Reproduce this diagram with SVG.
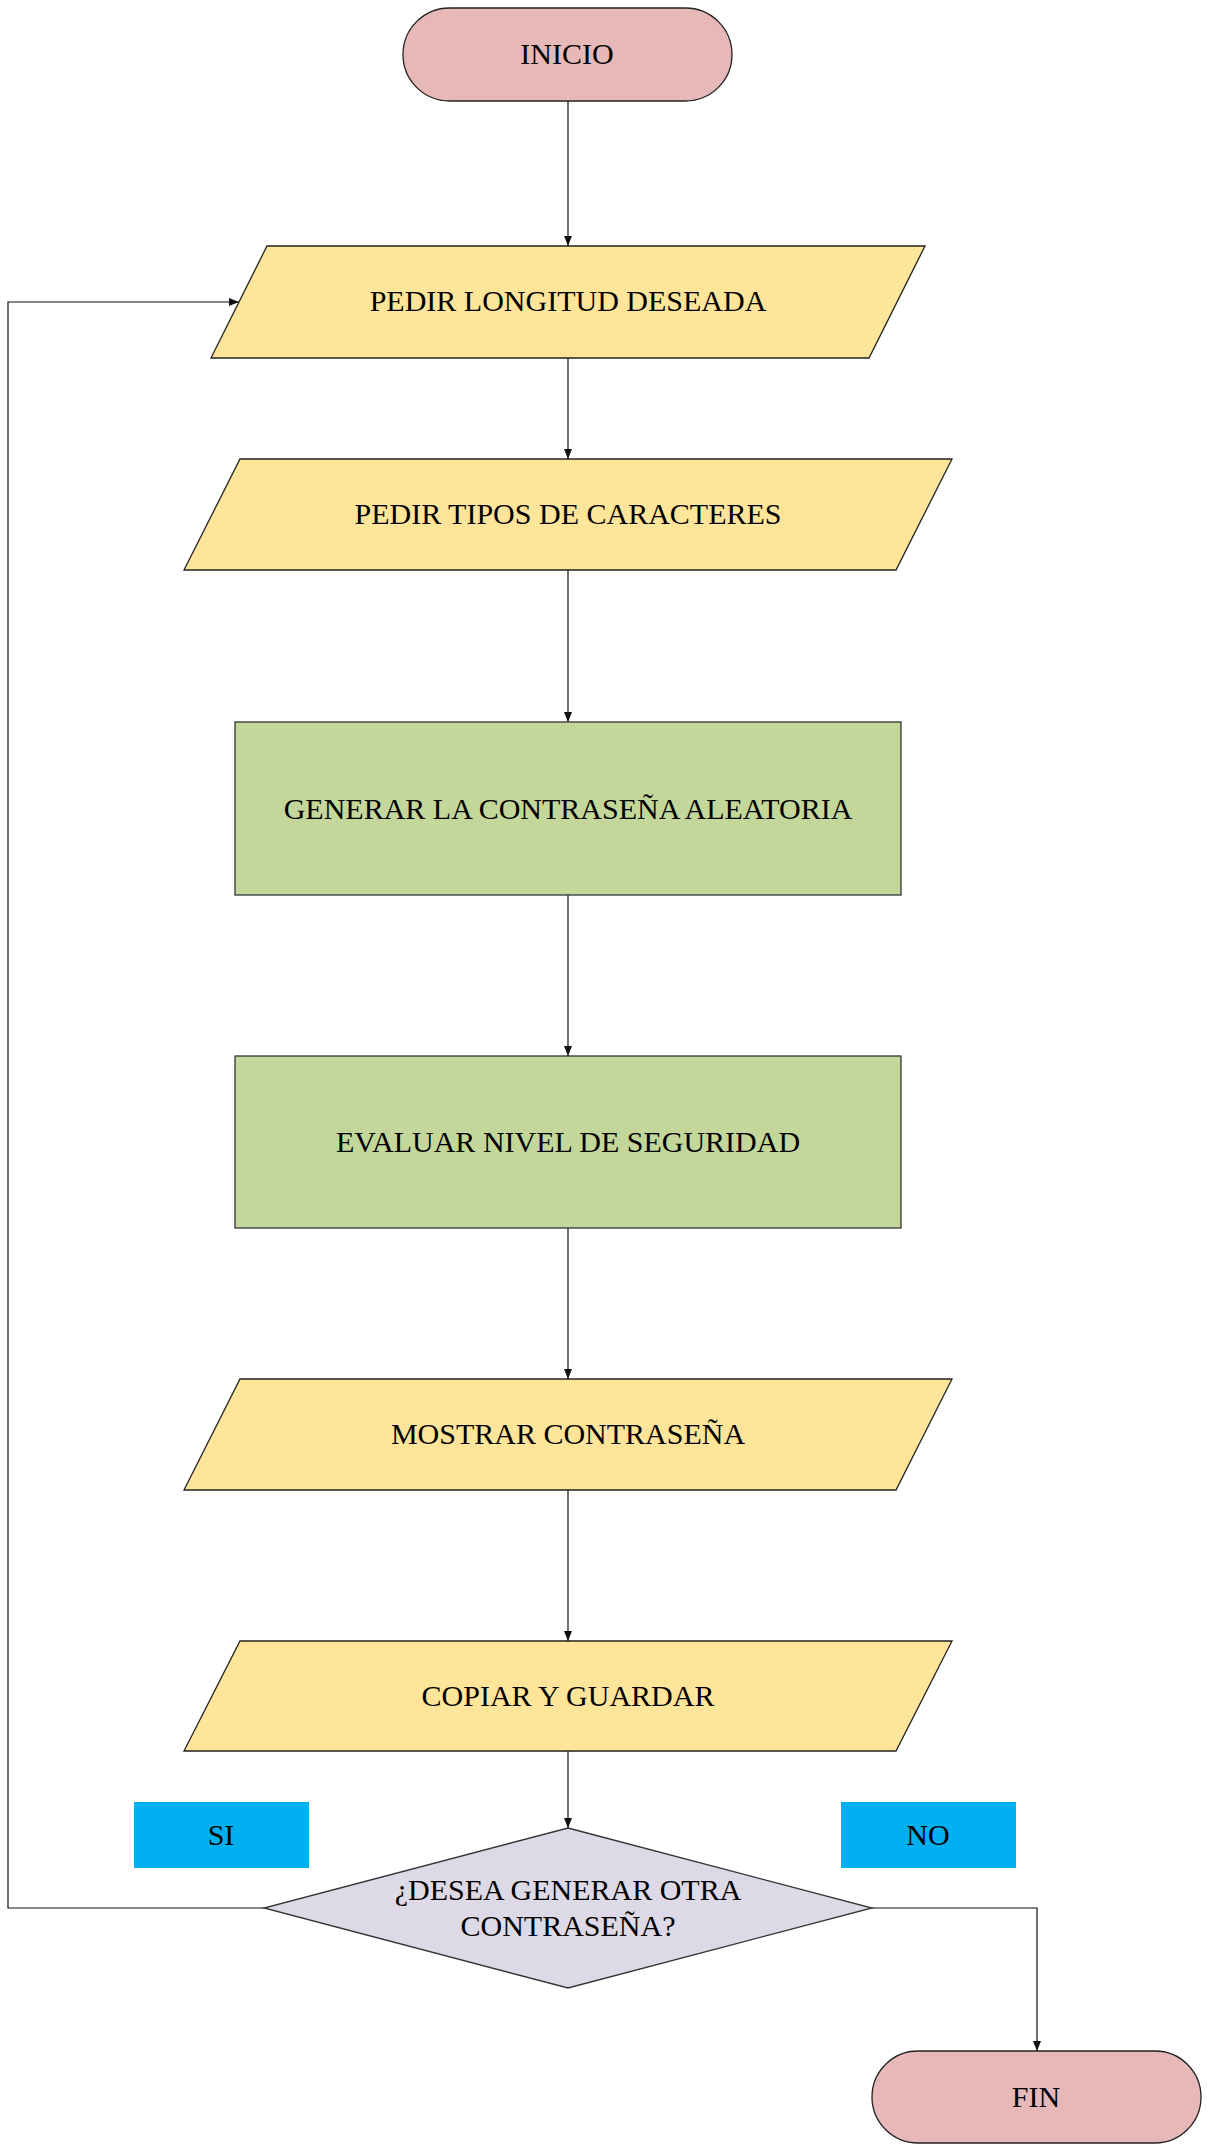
<svg xmlns="http://www.w3.org/2000/svg" width="1207" height="2155" viewBox="0 0 1207 2155">
<style>
.term{fill:#E6B8B7;stroke:#222;stroke-width:1.3}
.io{fill:#FFE599;stroke:#222;stroke-width:1.3}
.proc{fill:#C4D79B;stroke:#333;stroke-width:1.3}
.dec{fill:#DDD9E6;stroke:#333;stroke-width:1.3}
.lbl{fill:#00B0F0}
.t{font-family:"Liberation Serif","Times New Roman",serif;font-size:30px;fill:#000;text-anchor:middle}
.c{fill:none;stroke:#111;stroke-width:1.2}
</style>
<defs>
<marker id="ah" viewBox="0 0 10 10" refX="10" refY="5" markerWidth="10" markerHeight="10" markerUnits="userSpaceOnUse" orient="auto">
<path d="M0,1 L10,5 L0,9 Z" fill="#111"/>
</marker>
</defs>
<rect width="1207" height="2155" fill="#fff"/>
<g id="connectors">
<path class="c" d="M568,101 V246" marker-end="url(#ah)"/>
<path class="c" d="M568,358 V459" marker-end="url(#ah)"/>
<path class="c" d="M568,570 V722" marker-end="url(#ah)"/>
<path class="c" d="M568,895 V1056" marker-end="url(#ah)"/>
<path class="c" d="M568,1228 V1379" marker-end="url(#ah)"/>
<path class="c" d="M568,1490 V1641" marker-end="url(#ah)"/>
<path class="c" d="M568,1751 V1828" marker-end="url(#ah)"/>
<path class="c" d="M264,1908 H8 V302 H239" marker-end="url(#ah)"/>
<path class="c" d="M872,1908 H1037 V2051" marker-end="url(#ah)"/>
</g>
<g id="inicio">
<rect class="term" x="403" y="8" width="329" height="93" rx="46.5" ry="46.5"/>
<text class="t" x="567" y="64">INICIO</text>
</g>
<g id="pedir-longitud">
<polygon class="io" points="267,246 925,246 869,358 211,358"/>
<text class="t" x="568" y="311">PEDIR LONGITUD DESEADA</text>
</g>
<g id="pedir-tipos">
<polygon class="io" points="240,459 952,459 896,570 184,570"/>
<text class="t" x="568" y="524">PEDIR TIPOS DE CARACTERES</text>
</g>
<g id="generar">
<rect class="proc" x="235" y="722" width="666" height="173"/>
<text class="t" x="568" y="819">GENERAR LA CONTRASEÑA ALEATORIA</text>
</g>
<g id="evaluar">
<rect class="proc" x="235" y="1056" width="666" height="172"/>
<text class="t" x="568" y="1152">EVALUAR NIVEL DE SEGURIDAD</text>
</g>
<g id="mostrar">
<polygon class="io" points="240,1379 952,1379 896,1490 184,1490"/>
<text class="t" x="568" y="1444">MOSTRAR CONTRASEÑA</text>
</g>
<g id="copiar">
<polygon class="io" points="240,1641 952,1641 896,1751 184,1751"/>
<text class="t" x="568" y="1706">COPIAR Y GUARDAR</text>
</g>
<g id="si">
<rect class="lbl" x="134" y="1802" width="175" height="66"/>
<text class="t" x="221" y="1845">SI</text>
</g>
<g id="no">
<rect class="lbl" x="841" y="1802" width="175" height="66"/>
<text class="t" x="928" y="1845">NO</text>
</g>
<g id="decision">
<polygon class="dec" points="568,1828 872,1908 568,1988 264,1908"/>
<text class="t" x="568" y="1900">¿DESEA GENERAR OTRA</text>
<text class="t" x="568" y="1936">CONTRASEÑA?</text>
</g>
<g id="fin">
<rect class="term" x="872" y="2051" width="329" height="92" rx="46" ry="46"/>
<text class="t" x="1036" y="2107">FIN</text>
</g>
</svg>
